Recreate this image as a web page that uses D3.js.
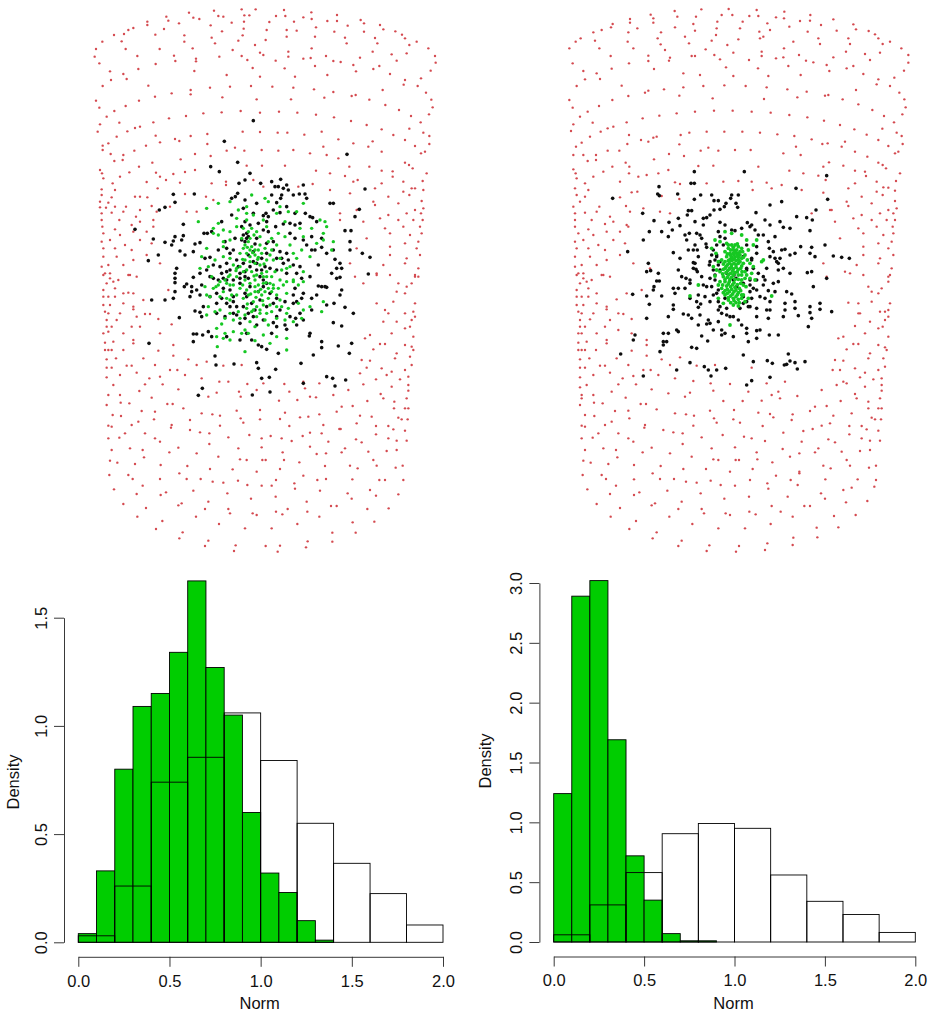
<!DOCTYPE html>
<html>
<head>
<meta charset="utf-8">
<script src="https://cdn.jsdelivr.net/npm/d3@7"></script>
<style>
  body { margin: 0; background: #fff; }
  text { font-family: "Liberation Sans", Arial, sans-serif; fill: #111; }
</style>
</head>
<body>
<div id="chart"></div>
<script>
// histogram values
const wideBins = [0, 0.2, 0.4, 0.6, 0.8, 1.0, 1.2, 1.4, 1.6, 1.8, 2.0];
const narrowBins = [0, 0.1, 0.2, 0.3, 0.4, 0.5, 0.6, 0.7, 0.8, 0.9, 1.0, 1.1, 1.2, 1.3, 1.4];
const leftWhite = [0.03, 0.26, 0.74, 0.855, 1.06, 0.84, 0.55, 0.365, 0.225, 0.08];
const leftGreen = [0.04, 0.33, 0.8, 1.09, 1.15, 1.34, 1.67, 1.27, 1.05, 0.6, 0.32, 0.23, 0.1, 0.01];
const rightWhite = [0.06, 0.31, 0.58, 0.905, 0.99, 0.95, 0.56, 0.34, 0.23, 0.08];
const rightGreen = [1.24, 2.89, 3.02, 1.69, 0.72, 0.35, 0.07, 0.01, 0.01];
const xTicks = [0, 0.5, 1, 1.5, 2];
const leftYTicks = [0, 0.5, 1, 1.5];
const rightYTicks = [0, 0.5, 1, 1.5, 2, 2.5, 3];

// point clouds: flat x,y lists
const leftRedTop = [372,32,455,28,497,28,582,30,664,37,297,38,741,45,229,50,310,53,328,57,385,48,400,50,463,46,478,46,558,48,586,48,640,52,812,60,172,65,172,75,235,62,267,70,362,76,425,68,462,65,538,66,612,65,665,57,712,63,741,63,870,75,130,84,115,90,880,88,102,102,72,105,222,87,196,104,283,106,396,94,461,86,458,106,530,90,590,90,620,92,678,82,733,95,773,77,822,95,822,70,916,94,936,104,945,115,95,124,37,125,283,125,365,113,375,130,445,122,495,135,527,120,590,110,675,110,765,113,770,130,855,114,862,130,958,135,980,125,18,147,107,147,209,147,308,145,428,150,510,158,595,155,665,145,14,170,142,168,252,167,318,176,318,184,388,170,455,168,472,180,520,165,557,182,595,170,640,176,662,174,708,168,730,183,752,186,810,173,848,155,905,163,950,160,1015,145,1035,168,1037,188,28,190,197,192,256,183,790,195,920,182,145,207,60,214,100,222,63,240,110,237,313,213,410,225,488,204,510,230,584,205,615,230,675,198,712,225,798,214,850,207,868,198,900,222,945,240,993,235,1022,212,38,258,175,257,245,280,195,290,302,270,302,283,360,263,420,260,483,258,547,260,610,263,672,268,730,276,785,288,797,285,838,299,878,270,941,254,983,258,1008,278,18,302,147,302,397,292,500,298,603,298,703,293,1024,299,107,318,28,323,73,333,50,350,288,348,340,340,395,337,452,333,510,338,567,335,622,338,678,344,732,352,886,315,927,330,963,348,1028,322,1017,343,237,355,88,368,190,367,30,373,783,363,830,375,992,367,150,380,135,384,112,394,23,395,875,388,958,386,1000,398,352,402,458,395,510,396,563,398,592,398,643,404,695,395,80,410,197,407,302,408,910,405,1018,408,255,417,268,423,210,427,745,418,848,424,945,420,55,430,38,437,168,437,352,432,435,443,790,430,700,440,835,440,975,438,1018,432,38,450,133,452,410,452,463,452,515,450,565,452,610,450,875,455,1005,455,62,462,100,465,315,462,362,468,660,460,710,465,993,460,73,483,98,480,187,488,272,478,516,497,470,497,945,488,957,495,745,475,585,497,30,510,147,500,36,520,198,518,250,522,285,516,315,510,118,517,678,512,720,520,778,500,838,500,875,512,908,514,968,505,1010,520,40,535,90,530,210,530,765,528,908,530,68,550,170,546,228,540,270,548,365,550,408,545,408,555,490,540,790,545,803,540,875,550,940,545,998,543,35,568,75,570,203,565,150,590,135,590,520,560,625,560,668,552,720,570,780,580,855,565,940,575,965,565,975,565,1000,570,35,585,65,592,172,592,285,582,348,590,370,600,850,605,895,590,958,585,995,603,30,605,55,608,30,622,48,623,75,620,108,620,185,618,150,630,240,620,800,630,855,615,925,610,975,630,1000,625,35,640,65,638,100,635,138,650,200,635,290,635,320,635,350,625,750,640,805,628,895,645,950,640,993,640,35,660,88,660,150,665,190,660,870,655,925,660,970,660,998,660,37,680,75,688,125,675,190,680,750,660,820,665,885,685,940,680,990,680,40,700,90,705,130,695,170,695,900,700,960,705,995,700,35,725,60,720,105,735,150,720,185,730,830,715,945,730,985,725,40,745,75,745,125,750,800,745,900,740,980,745,40,770,130,780,80,770,170,765,900,765,950,775,990,765,35,800,55,795,100,795,210,790,780,790,880,795,945,790,985,805,45,820,60,835,115,825,140,830,260,805,975,830,900,825,860,820];
const leftRedBottom = [40,15,60,10,120,15,85,30,50,40,70,35,40,60,75,55,115,68,130,70,160,90,40,80,55,80,75,80,100,70,235,60,820,40,860,15,795,20,920,65,945,70,975,15,985,20,965,40,950,50,925,40,40,105,60,105,100,100,130,110,130,118,860,100,910,95,975,100,45,125,55,130,90,130,165,132,180,132,205,147,885,120,895,130,945,130,970,125,50,150,80,150,140,140,245,163,880,155,920,155,965,150,975,140,50,170,65,170,100,190,125,170,150,170,960,170,40,190,55,185,130,210,210,190,825,205,840,195,905,190,945,175,970,200,45,218,70,215,130,220,250,225,870,222,885,222,965,230,945,225,45,240,55,240,65,240,100,240,205,242,850,238,920,250,970,240,50,268,78,265,160,265,250,257,295,268,350,275,815,270,840,272,915,265,960,260,50,293,65,293,110,287,125,287,195,285,320,285,400,287,455,285,830,293,875,295,945,300,965,285,90,315,140,308,240,300,262,300,210,320,285,315,810,310,905,305,955,320,50,322,178,325,335,325,890,315,930,328,70,345,165,343,218,343,388,335,415,335,472,342,520,340,583,342,640,335,688,340,820,343,858,328,905,350,955,345,148,363,265,358,447,365,500,360,598,365,645,355,775,360,955,362,55,375,90,375,380,368,355,380,872,372,118,400,92,398,185,383,280,415,232,402,248,402,452,380,567,392,622,390,660,380,678,382,730,375,880,385,913,395,950,385,50,405,155,423,195,425,510,420,755,410,788,408,832,393,912,415,945,415,955,415,68,435,93,438,335,430,367,433,440,422,390,437,585,428,630,442,655,440,688,433,740,425,810,437,845,440,925,443,935,448,953,448,55,467,65,470,125,465,145,455,192,448,300,450,452,445,460,458,510,448,570,447,598,468,700,465,800,460,858,468,895,468,245,465,243,473,390,467,330,487,358,490,105,490,165,490,300,480,660,488,695,490,748,477,752,477,858,493,910,478,945,482,55,505,88,503,195,505,210,515,415,502,478,495,542,498,515,505,575,505,605,513,638,498,798,508,815,517,895,505,920,512,950,512,65,540,120,535,158,540,238,547,265,533,358,522,445,535,515,532,578,547,660,530,715,515,765,535,755,547,835,545,890,543,920,540,60,572,82,578,162,562,320,550,385,560,450,568,470,570,517,570,527,570,582,570,628,577,680,552,708,550,850,570,135,582,212,585,292,588,360,597,428,598,500,605,570,597,705,588,780,587,803,595,860,587,917,593,938,587,58,615,115,615,268,610,128,627,210,627,290,627,332,627,368,635,400,638,444,632,558,630,640,617,682,630,708,627,787,628,868,630,885,630,940,630,158,647,472,645,515,647,545,647,613,640,615,656,72,658,228,667,212,675,310,662,412,670,690,662,773,670,840,660,858,677,925,673,140,672,483,686,557,680,785,686,355,695,650,695,100,702,275,700,265,706,723,708,740,708,168,714,345,717,415,717,420,730,488,730,500,735,558,725,577,733,593,717,652,725,832,717,896,715,142,740,318,740,688,740,217,753,788,757,853,755,387,762,622,762,198,777,465,775,545,775,727,788,797,788,278,787,268,805,355,812,653,814,727,815,345,828,437,826,527,828,570,827,648,832,432,843,563,845];
const leftBlack = [370,-148,283,-86,651,-47,323,-23,242,-10,268,5,360,10,345,30,327,40,392,40,452,28,425,35,435,50,445,50,460,55,475,60,520,45,470,45,130,73,193,72,323,70,316,80,305,85,425,75,455,75,452,85,490,75,508,72,525,72,530,85,345,90,440,98,135,97,380,100,600,100,610,100,88,120,105,112,160,163,526,130,540,140,548,143,408,130,400,137,415,140,450,128,675,140,705,57,688,118,460,162,480,160,495,165,560,155,275,155,345,155,385,160,437,170,15,178,70,207,105,217,135,200,125,225,130,213,160,197,155,210,195,222,210,218,222,190,232,190,245,185,340,195,350,205,345,215,400,180,415,185,480,190,495,205,520,210,575,205,645,182,663,182,660,215,150,243,165,255,190,245,240,262,225,265,290,235,310,240,375,222,430,215,450,245,470,250,455,265,475,270,545,240,530,225,555,240,575,232,610,240,660,240,697,250,720,262,85,255,55,272,615,268,630,280,620,295,635,295,605,310,630,322,620,325,715,312,140,295,135,310,190,322,135,325,135,338,210,310,240,320,250,325,280,325,290,330,330,310,345,320,355,325,400,330,395,300,420,295,500,310,515,325,170,342,163,350,185,350,200,360,210,375,185,365,180,380,135,365,130,385,105,390,65,390,565,348,575,350,590,352,635,360,630,375,495,355,520,370,515,385,500,395,490,400,590,405,612,400,645,412,670,430,148,443,195,423,210,427,215,440,320,435,355,430,375,420,510,430,545,420,480,440,497,445,430,458,440,470,470,478,425,490,540,490,538,498,610,458,635,468,665,520,190,492,200,492,218,495,235,485,245,500,190,515,57,520,330,510,365,510,385,525,395,530,410,538,445,550,575,515,575,533,625,528,658,550,550,555,255,558,380,578,385,595,312,582,513,580,258,585,437,598,395,625,418,622,520,640,590,620,608,625,615,648,647,630,217,655,205,676,367,675,420,666,360,165,350,190,410,220,370,245,300,250,320,270,290,280,270,290,340,280,360,290,380,300,440,265,460,280,300,300,310,330,330,340,360,350,400,350,420,370,300,360,280,355,260,370,310,395,350,380,390,390,430,400,450,420,340,410,300,410,260,400,370,440,330,460,400,450,290,500,350,490,355,200,335,210,380,205,430,240,410,250,395,265,380,280,355,255,325,290,345,305,370,275,405,290,440,300,470,310,490,285,510,290,275,310,290,305,265,330,330,325,390,320,410,340,385,365,345,370,310,380,290,400,275,385,365,400,410,410,440,385,465,395,490,375,320,410,345,445,310,430,285,440,380,465,440,440,465,465,500,465,520,450,260,430,220,410,240,380,215,345,230,300,250,285,265,240,285,215,315,205,335,170,370,130,410,155,430,120,470,110,495,130,510,160,545,200,590,250,565,285,540,320,560,375,545,385,585,350,305,135,340,115];
const leftGreenDots = [205,155,230,115,265,100,300,95,365,75,405,85,415,95,520,100,325,120,350,130,370,135,400,150,450,110,500,125,570,150,585,155,590,170,250,175,265,160,280,180,350,150,365,175,380,185,445,190,510,175,545,175,580,190,250,190,300,210,355,215,365,230,375,240,390,225,415,215,440,225,520,200,610,215,605,240,580,210,215,260,230,235,280,230,350,250,360,260,375,255,395,250,420,255,500,265,515,240,210,295,255,270,310,285,330,290,350,300,395,310,410,305,425,320,450,330,470,335,520,335,520,305,245,320,290,340,320,320,375,330,385,345,400,320,420,340,445,355,240,380,280,365,300,345,350,360,375,365,395,375,415,385,440,375,470,370,575,425,580,395,235,410,270,420,300,390,340,385,370,395,380,410,400,405,425,425,455,410,475,415,230,435,255,425,285,445,310,450,345,435,380,440,410,430,440,445,465,450,260,475,275,462,330,445,345,480,355,490,375,470,415,465,470,505,262,530,300,510,345,545,470,540,375,512,420,520,285,490,260,500,470,430,360,205,352,232,368,248,383,268,402,282,338,268,318,302,372,318,408,338,392,358,362,372,338,345,378,382,398,392,352,402,420,405,305,375,430,355,455,300,480,290,490,330,270,335,258,350,295,320,365,425,390,420,440,410,340,175,355,185,372,195,390,200,335,205,345,225,360,240,385,240,405,235,425,240,340,235,330,250,385,262,410,270,430,270,345,270,360,275,375,280,390,285,320,295,340,305,365,305,380,315,410,320,435,305,300,315,310,345,330,355,345,330,360,340,375,350,400,340,415,355,430,345,460,345,490,335,505,345,285,330,265,345,270,380,290,385,320,375,355,375,385,365,405,365,425,365,450,390,370,420,390,430,350,415,325,425,300,430,405,450,360,455,335,490,490,455,515,445,280,215,265,195,300,185,320,170,410,170,425,205,465,200,480,225,490,250,540,260,560,220,470,295,235,290,225,350,250,355,300,265,280,260,450,265,280,505,400,495,440,500,310,485,230,375,520,420,505,400,540,410,350,110,320,145,440,130,465,155,475,125];
const rightRedTop = [424,28,506,27,590,30,344,33,673,35,272,44,751,45,352,50,408,50,485,45,517,45,568,48,595,48,648,52,820,58,210,57,210,68,280,55,280,68,345,82,400,72,472,65,548,65,622,70,672,55,720,63,750,62,880,73,158,72,153,82,125,90,888,88,100,97,232,85,205,97,303,97,405,92,470,85,468,105,540,85,598,95,630,90,688,80,743,95,783,75,830,92,926,93,945,103,955,115,105,122,62,115,47,125,203,125,293,115,302,133,375,110,387,130,455,122,502,135,535,118,600,115,610,110,700,125,775,115,780,132,865,115,870,132,968,132,990,125,28,145,118,145,220,145,315,150,437,148,520,158,605,155,672,145,858,155,915,162,960,158,1024,145,1045,165,1045,188,152,168,265,167,330,173,327,182,395,168,405,168,463,165,480,178,567,180,605,168,648,175,670,172,717,165,738,182,760,187,820,172,930,180,38,190,207,190,265,183,282,207,155,206,800,195,860,205,880,198,70,213,110,220,370,220,420,225,498,202,520,228,594,205,625,228,685,198,722,225,808,213,910,222,955,238,1003,233,1032,212,75,238,120,237,185,257,255,278,265,272,205,288,312,268,358,287,370,262,430,258,493,256,557,258,620,262,682,268,740,275,795,287,805,285,848,298,888,270,950,253,990,258,1018,278,50,258,28,300,157,300,458,295,612,297,712,292,1033,298,117,318,38,323,83,335,60,350,298,347,350,340,405,335,462,332,518,332,575,335,632,338,688,345,742,352,895,313,937,330,972,348,1037,322,1027,343,248,355,98,368,200,367,40,373,792,362,840,375,1002,367,160,380,143,385,122,395,33,393,883,388,967,386,1010,398,362,405,388,398,440,395,493,395,547,395,600,398,652,403,703,408,90,410,207,405,920,404,1025,408,280,413,290,410,243,420,265,425,755,418,855,425,955,420,65,428,48,440,202,432,358,433,803,430,787,432,708,440,845,440,985,438,1028,432,40,465,143,452,178,452,422,452,445,443,475,452,525,450,572,450,885,455,1015,455,70,465,108,465,327,462,372,468,670,460,722,465,1005,460,83,483,108,480,197,488,282,478,922,470,955,488,968,495,807,487,40,508,157,500,208,500,415,498,460,497,595,500,790,500,850,497,885,512,915,515,978,505,1020,520,47,520,130,515,207,520,260,525,295,520,325,510,730,520,688,512,775,527,918,528,50,535,100,530,235,530,180,545,75,550,345,547,360,552,440,550,490,545,535,543,575,545,620,548,665,555,797,540,1008,543,885,550,950,545,45,565,85,570,215,577,232,575,578,570,635,565,725,570,790,578,865,565,950,575,970,562,985,563,1005,572,50,585,75,590,180,592,305,588,358,597,860,605,905,590,968,585,1005,603,40,620,60,605,118,620,198,618,250,625,810,630,865,618,935,610,985,630,1010,625,45,640,75,638,110,635,150,650,210,635,300,635,330,640,755,640,815,630,905,645,960,640,1000,640,45,660,95,660,160,665,200,675,880,655,935,660,980,660,1005,660,45,680,85,688,135,672,205,680,825,665,895,685,950,680,998,680,55,700,100,705,140,695,180,695,910,700,970,705,1000,700,45,725,70,720,115,735,160,720,195,730,840,715,955,730,995,725,50,745,85,745,135,750,910,740,985,745,45,770,140,780,90,770,180,765,910,765,960,775,1000,765,45,800,65,795,110,795,220,790,790,790,890,795,955,790,995,805,55,820,70,835,125,825,150,830,270,805,985,830,910,825,870,820];
const rightRedBottom = [50,15,70,10,130,15,95,30,60,40,80,35,50,60,85,55,140,110,170,88,50,80,65,80,85,80,110,70,200,70,245,60,855,5,800,20,925,50,935,65,955,70,990,15,985,35,965,55,990,100,50,105,70,105,110,100,140,118,865,98,895,100,935,95,985,120,55,125,65,130,100,130,175,130,190,132,215,147,895,130,900,130,960,125,975,125,60,150,90,148,150,150,885,168,930,155,975,150,985,140,60,170,75,170,110,190,135,170,175,180,968,170,55,190,65,190,140,210,215,190,835,205,850,200,915,190,955,175,985,200,55,218,80,215,140,220,260,210,260,225,880,222,895,222,975,232,955,225,55,240,65,240,75,240,108,240,215,242,860,238,930,250,980,240,60,268,88,265,170,265,260,257,305,268,360,262,825,270,850,272,925,265,970,265,60,293,75,293,120,287,135,287,205,285,330,285,410,287,465,285,575,293,840,300,885,295,955,300,975,290,100,315,150,308,250,300,272,300,220,318,295,315,818,300,915,308,965,325,60,322,188,325,345,325,860,340,900,322,940,328,80,345,175,343,228,343,400,333,452,340,510,342,620,340,675,335,830,345,850,335,915,350,965,345,60,352,155,365,275,358,460,362,565,365,655,365,785,360,965,362,65,375,100,375,325,370,390,368,375,380,885,372,65,385,128,400,102,398,197,383,290,418,242,402,258,402,490,393,548,393,605,392,635,375,660,385,712,378,890,385,925,395,960,385,60,405,165,423,205,422,522,420,765,410,800,408,842,393,925,415,955,415,965,415,75,435,103,438,345,430,378,433,450,422,402,437,595,428,630,432,640,442,698,433,750,423,820,437,875,430,935,443,945,448,963,448,65,467,75,470,135,465,155,455,208,445,462,445,470,458,520,448,540,458,608,468,695,450,810,460,868,468,905,468,255,465,253,473,400,467,310,480,340,487,368,490,115,490,175,490,670,488,730,483,758,477,785,467,868,493,920,478,955,482,65,505,98,503,205,505,220,515,425,502,488,495,552,500,575,505,615,513,805,508,825,517,905,505,930,512,960,512,75,540,130,535,168,540,248,547,275,533,368,522,455,535,525,532,590,547,668,537,725,515,775,535,765,547,845,545,900,543,930,540,70,572,92,578,172,562,330,550,395,560,460,568,475,570,527,570,537,570,592,568,637,577,690,560,718,550,860,570,145,582,222,585,302,588,370,597,438,597,510,605,578,597,718,605,790,587,812,595,870,587,927,593,948,587,68,615,125,615,278,610,138,627,222,628,300,627,342,627,378,635,410,638,452,632,570,630,648,617,692,630,718,610,796,628,893,628,948,630,168,647,482,645,525,647,622,640,625,656,82,658,238,667,222,675,322,662,422,670,713,645,783,670,850,660,875,653,943,650,150,672,493,686,567,680,795,686,365,695,683,680,110,702,285,700,275,706,733,708,750,708,180,714,355,717,425,717,432,730,497,730,510,735,568,725,587,733,635,708,662,725,858,697,922,693,152,740,328,740,698,740,228,753,822,738,887,735,397,762,632,762,208,777,475,775,555,775,770,773,835,772,290,787,278,805,365,812,700,803,772,802,355,828,448,826,537,828,622,820,698,825,440,843,528,845,615,840];
const rightBlack = [253,5,403,5,650,17,8,85,147,50,243,40,253,40,143,72,148,77,203,72,272,75,305,75,253,88,365,75,385,75,362,85,378,100,383,112,312,92,325,92,515,95,480,105,558,55,653,88,348,100,343,110,330,118,312,120,98,130,235,122,232,135,245,122,300,135,290,143,280,145,438,128,618,120,132,152,177,157,205,145,210,167,255,155,280,165,330,157,412,158,420,170,435,180,425,165,465,150,480,165,510,155,520,172,590,143,607,150,540,175,560,140,600,182,118,185,155,185,175,200,187,180,225,195,238,190,260,190,270,195,275,205,325,185,365,180,375,182,495,200,460,195,100,210,230,210,288,222,290,232,255,225,250,240,262,240,53,245,190,248,235,240,310,240,320,255,410,225,440,230,478,235,490,245,515,240,525,238,572,230,605,232,645,225,540,255,555,250,600,250,615,260,670,258,695,262,718,265,250,278,255,280,315,270,330,275,400,260,425,265,480,260,495,265,500,275,505,280,115,280,298,285,410,295,520,295,505,300,470,295,250,295,258,298,110,305,122,302,145,310,262,305,310,300,372,315,378,325,592,308,605,305,460,320,465,330,460,345,650,325,215,320,228,325,240,330,275,320,140,333,148,333,240,340,280,345,290,350,420,330,440,330,490,340,430,355,420,365,132,350,130,360,190,355,205,355,610,350,475,362,530,365,545,372,110,378,68,373,155,378,195,370,240,385,310,375,400,380,450,380,465,385,480,395,410,395,415,410,260,395,272,402,265,412,118,403,190,405,325,395,525,400,555,395,600,410,630,400,630,418,665,425,190,418,555,415,470,420,480,420,325,420,335,430,350,435,360,440,220,432,235,435,175,440,110,445,600,428,605,445,565,437,440,440,475,445,520,440,295,450,300,460,290,462,385,450,395,465,410,475,265,465,75,495,160,490,175,490,200,480,205,485,335,480,345,490,335,495,440,482,450,480,478,495,410,490,595,470,505,495,70,510,275,498,293,513,415,515,160,515,170,515,160,525,150,545,245,532,260,535,400,555,535,552,32,552,240,578,430,575,472,572,487,580,523,585,530,583,540,573,555,578,585,575,562,597,283,590,295,600,320,600,347,595,200,600,100,618,303,618,480,622,425,632,410,645,330,200,340,225,320,260,330,300,350,310,370,330,380,350,400,340,410,300,425,270,315,330,325,360,345,385,400,400,360,295,345,205,320,225,305,255,300,275,325,285,315,315,300,325,305,350,320,370,440,250,430,295,445,310,420,345,440,360,425,385,390,415,350,415,330,410,300,395,285,380,265,375,225,355,205,300,210,265,265,260,345,165,395,175,445,195,475,215,510,265,540,310,505,335,495,365,420,410,440,415,370,440,325,455,270,435,245,445,310,480,370,500,440,505,525,420];
const rightGreenDots = [345,185,365,190,395,195,410,210,330,215,350,220,365,225,375,225,385,230,395,235,305,235,355,235,370,240,380,240,390,245,415,240,345,245,360,250,370,250,380,250,390,255,405,255,350,260,365,262,375,262,385,262,395,265,335,270,355,272,365,272,378,272,390,275,420,280,340,282,352,285,365,285,378,285,395,288,310,290,345,295,358,297,370,297,385,298,405,305,330,305,348,308,362,310,375,308,395,315,425,310,315,318,340,320,352,322,365,322,385,328,405,325,330,335,345,335,358,335,372,338,392,340,350,348,362,350,375,352,388,355,408,350,335,355,345,362,358,365,372,365,385,368,400,375,345,375,362,378,378,380,395,385,325,385,355,390,372,392,388,398,415,385,340,400,370,405,385,408,485,378,265,345,460,270,240,378,360,465,315,210,440,210,430,225,455,275,355,225,370,232,382,222,362,240,375,245,385,250,398,245,352,252,372,255,382,256,362,256,400,262,360,268,370,268,385,270,345,275,358,280,372,280,385,280,400,280,348,290,364,292,378,292,392,295,340,298,353,302,368,303,382,305,396,305,338,312,355,315,370,315,385,315,410,315,345,328,360,328,375,328,395,330,420,325,355,342,368,344,382,344,400,345,325,345,338,345,352,358,365,358,378,360,392,362,340,368,352,370,368,372,382,374,395,375,355,383,370,385,385,388,405,395,362,398,378,398,320,300,325,275,412,270,430,290,435,330,318,250];

function xyPairs(flat) {
  return d3.range(0, flat.length, 2).map((i) => [flat[i], flat[i + 1]]);
}

function drawCloud(svg, flat, x, y, color, r) {
  svg
    .append("g")
    .attr("filter", "url(#soft)")
    .selectAll("circle")
    .data(xyPairs(flat))
    .enter()
    .append("circle")
    .attr("cx", (d) => x(d[0]))
    .attr("cy", (d) => y(d[1]))
    .attr("r", r)
    .attr("fill", color);
}

// x and y scale for a cloud list, read in a frame starting at (left, top), 3 units per pixel
function frame(left, top) {
  return [
    d3.scaleLinear([0, 300], [left, left + 100]),
    d3.scaleLinear([0, 300], [top, top + 100]),
  ];
}

function drawHist(svg, opts) {
  const x = d3.scaleLinear([0, 2], [opts.x0, opts.x1]);
  const y = d3.scaleLinear([0, opts.yTicks[opts.yTicks.length - 1]], [opts.y0, opts.y1]);

  // green bars first, the open bars go over them
  svg
    .append("g")
    .selectAll("rect")
    .data(opts.green)
    .enter()
    .append("rect")
    .attr("x", (d, i) => x(narrowBins[i]))
    .attr("y", (d) => y(d))
    .attr("width", (d, i) => x(narrowBins[i + 1]) - x(narrowBins[i]))
    .attr("height", (d) => y(0) - y(d))
    .attr("fill", "#00cd00")
    .attr("stroke", "#000")
    .attr("stroke-width", 0.9);

  svg
    .append("g")
    .selectAll("rect")
    .data(opts.white)
    .enter()
    .append("rect")
    .attr("x", (d, i) => x(wideBins[i]))
    .attr("y", (d) => y(d))
    .attr("width", (d, i) => x(wideBins[i + 1]) - x(wideBins[i]))
    .attr("height", (d) => y(0) - y(d))
    .attr("fill", "none")
    .attr("stroke", "#000")
    .attr("stroke-width", 0.9);

  const xAxis = svg
    .append("g")
    .attr("transform", `translate(0,${opts.y0 + 14.5})`)
    .call(
      d3.axisBottom(x).tickValues(xTicks).tickFormat(d3.format(".1f"))
        .tickSize(10).tickSizeOuter(0).tickPadding(8),
    );

  const yAxis = svg
    .append("g")
    .attr("transform", `translate(${opts.x0 - 14.3},0)`)
    .call(
      d3.axisLeft(y).tickValues(opts.yTicks).tickFormat(d3.format(".1f"))
        .tickSize(10).tickSizeOuter(0).tickPadding(0),
    );
  yAxis
    .selectAll("text")
    .attr("x", 0)
    .attr("y", 0)
    .attr("dy", 0)
    .attr("text-anchor", "middle")
    .attr("transform", "translate(-17,0)rotate(-90)");

  [xAxis, yAxis].forEach((a) => {
    a.selectAll("path, line").attr("stroke", "#222").attr("stroke-width", 0.9);
    a.selectAll("text").style("font-size", "16.5px").style("font-family", '"Liberation Sans"');
  });

  svg
    .append("text")
    .attr("x", (opts.x0 + opts.x1) / 2 - 1)
    .attr("y", 1009)
    .attr("text-anchor", "middle")
    .style("font-size", "16.5px")
    .text("Norm");

  svg
    .append("text")
    .attr("transform", `translate(${opts.densityX},${opts.densityY})rotate(-90)`)
    .attr("text-anchor", "middle")
    .style("font-size", "16.5px")
    .text("Density");
}

function init() {
  const svg = d3
    .select("#chart")
    .append("svg")
    .attr("width", 930)
    .attr("height", 1014)
    .style("display", "block");

  const soft = svg.append("defs").append("filter").attr("id", "soft");
  soft.append("feGaussianBlur").attr("stdDeviation", 0.4);

  const red = "#d44a50";
  const black = "#0c0c0c";
  const green = "#18c824";

  drawCloud(svg, leftRedTop, ...frame(90, 0), red, 1.2);
  drawCloud(svg, leftRedBottom, ...frame(90, 270), red, 1.2);
  drawCloud(svg, leftBlack, ...frame(130, 170), black, 1.8);
  drawCloud(svg, leftGreenDots, ...frame(130, 170), green, 1.7);

  drawCloud(svg, rightRedTop, ...frame(560, 0), red, 1.2);
  drawCloud(svg, rightRedBottom, ...frame(560, 270), red, 1.2);
  drawCloud(svg, rightBlack, ...frame(610, 170), black, 1.8);
  drawCloud(svg, rightGreenDots, ...frame(610, 170), green, 1.9);

  drawHist(svg, {
    x0: 78.3, x1: 443, y0: 942.3, y1: 617.7,
    white: leftWhite, green: leftGreen, yTicks: leftYTicks,
    densityX: 19, densityY: 782,
  });
  drawHist(svg, {
    x0: 553.7, x1: 915.3, y0: 942, y1: 583,
    white: rightWhite, green: rightGreen, yTicks: rightYTicks,
    densityX: 491, densityY: 761,
  });
}

window.addEventListener("load", init);
</script>
</body>
</html>
